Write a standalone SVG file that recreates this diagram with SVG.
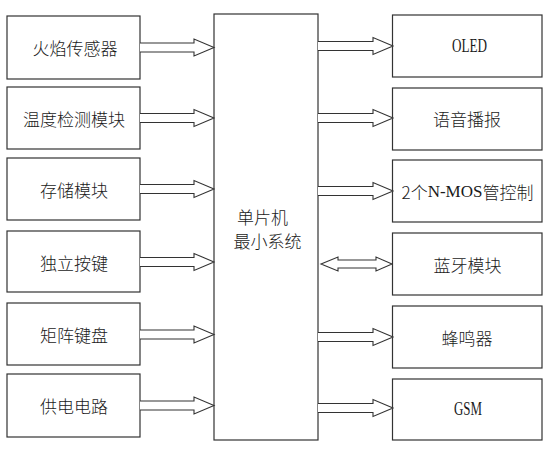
<svg xmlns="http://www.w3.org/2000/svg" width="554" height="449" viewBox="0 0 554 449">
<style>
.box{fill:#fff;stroke:#333;stroke-width:1.2}
.arr{fill:#fff;stroke:#333;stroke-width:1.1;stroke-linejoin:miter}
.t{font-family:"Noto Sans CJK SC","Liberation Serif",serif;font-size:17px;font-weight:300;fill:#1a1a1a;text-anchor:middle;dominant-baseline:central}
.l{font-family:"Liberation Serif","Noto Sans CJK SC",serif;font-size:18px;fill:#1a1a1a;text-anchor:middle;dominant-baseline:central}
</style>
<rect width="554" height="449" fill="#fff"/>
<g id="mcu"><rect class="box" x="214" y="14" width="104" height="426"/>
<text class="t" x="262.5" y="216">单片机</text>
<text class="t" x="267.5" y="240">最小系统</text></g>
<g id="flame"><rect class="box" x="7" y="16" width="133" height="63"/><text class="t" x="75" y="47.5">火焰传感器</text></g>
<g id="temp"><rect class="box" x="7" y="87" width="133" height="62"/><text class="t" x="74" y="118">温度检测模块</text></g>
<g id="storage"><rect class="box" x="7" y="158" width="133" height="62"/><text class="t" x="74" y="189">存储模块</text></g>
<g id="key"><rect class="box" x="7" y="231" width="133" height="61"/><text class="t" x="74" y="262">独立按键</text></g>
<g id="matrix"><rect class="box" x="7" y="303" width="133" height="62"/><text class="t" x="74" y="334">矩阵键盘</text></g>
<g id="power"><rect class="box" x="7" y="374" width="133" height="63"/><text class="t" x="74" y="405.5">供电电路</text></g>
<g id="oled"><rect class="box" x="392.5" y="15" width="149.5" height="62"/><text class="l" x="469.5" y="46" textLength="35" lengthAdjust="spacingAndGlyphs">OLED</text></g>
<g id="voice"><rect class="box" x="392.5" y="88" width="149.5" height="62"/><text class="t" x="467" y="118">语音播报</text></g>
<g id="nmos"><rect class="box" x="392.5" y="160" width="149.5" height="62"/><text class="t" x="467.5" y="191"><tspan>2个</tspan><tspan font-family="Liberation Serif" font-size="17">N-MOS</tspan><tspan>管控制</tspan></text></g>
<g id="bt"><rect class="box" x="392.5" y="233" width="149.5" height="62"/><text class="t" x="467.5" y="264">蓝牙模块</text></g>
<g id="buzzer"><rect class="box" x="392.5" y="306" width="149.5" height="62"/><text class="t" x="467" y="337">蜂鸣器</text></g>
<g id="gsm"><rect class="box" x="392.5" y="379" width="149.5" height="61"/><text class="l" x="468" y="409" textLength="28" lengthAdjust="spacingAndGlyphs">GSM</text></g>
<g id="connectors">
<path class="arr" d="M140,43 H194 V39 L214,47.5 L194,56 V52 H140"/>
<path class="arr" d="M140,113.5 H194 V109.5 L214,118 L194,126.5 V122.5 H140"/>
<path class="arr" d="M140,184.5 H194 V180.5 L214,189 L194,197.5 V193.5 H140"/>
<path class="arr" d="M140,257.5 H194 V253.5 L214,262 L194,270.5 V266.5 H140"/>
<path class="arr" d="M140,330 H194 V326 L214,334.5 L194,343 V339 H140"/>
<path class="arr" d="M140,401 H194 V397 L214,405.5 L194,414 V410 H140"/>
<path class="arr" d="M318,41.5 H373 V37.5 L393,46 L373,54.5 V50.5 H318"/>
<path class="arr" d="M318,113.5 H373 V109.5 L393,118 L373,126.5 V122.5 H318"/>
<path class="arr" d="M318,186.5 H373 V182.5 L393,191 L373,199.5 V195.5 H318"/>
<path class="arr" d="M321,264 L338,257 V260 H376 V257 L392,264 L376,271 V268 H338 V271 Z"/>
<path class="arr" d="M318,332.5 H373 V328.5 L393,337 L373,345.5 V341.5 H318"/>
<path class="arr" d="M318,403.5 H373 V399.5 L393,408 L373,416.5 V412.5 H318"/>
</g>
</svg>
